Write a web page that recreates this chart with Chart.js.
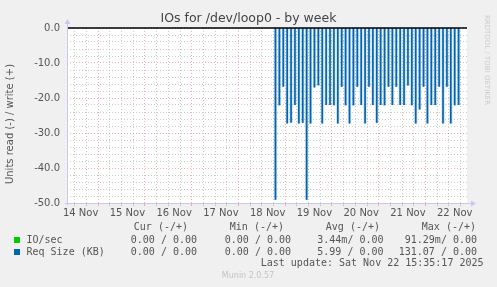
<!DOCTYPE html>
<html>
<head>
<meta charset="utf-8">
<script src="https://cdn.jsdelivr.net/npm/chart.js@4/dist/chart.umd.min.js"></script>
<style>
  html, body { margin: 0; padding: 0; background: #f0f0f0; }
  #wrap { width: 497px; height: 287px; position: relative; }
</style>
</head>
<body>
<div id="wrap"><canvas id="ioChart" width="497" height="287"></canvas></div>
<script>
// hours since 14 Nov 00:00
const times = [112, 114, 116, 118, 120, 122, 124, 126, 128, 130, 132, 134, 136, 138, 140, 142,
  144, 146, 148, 150, 152, 154, 156, 158, 160, 162, 164, 166, 168, 170, 172, 174,
  176, 178, 180, 182, 184, 186, 188, 190, 192, 194, 196, 198, 200, 202, 204, 206];
// Req Size (KB), read side (drawn negative)
const reqSizeRead = [-49, -22, -16.7, -27.2, -27, -21.9, -27.2, -27, -49, -27.2, -16.9, -16.3, -27.2, -21.9, -21.9, -22,
  -27.2, -16.7, -22, -27.2, -22, -16.7, -21.9, -27.2, -16.7, -21.9, -27, -21.9, -22, -16.7, -21.9, -16.7,
  -21.9, -21.9, -16.3, -22, -27.2, -23.2, -16.7, -27.2, -21.9, -21.9, -16.7, -27.2, -16.7, -27.2, -22, -21.9];
const dayLabels = ['14 Nov', '15 Nov', '16 Nov', '17 Nov', '18 Nov', '19 Nov', '20 Nov', '21 Nov', '22 Nov'];
const legendHeads = ['Cur (-/+)', 'Min (-/+)', 'Avg (-/+)', 'Max (-/+)'];
const ioSecRow = ['0.00 / 0.00', '0.00 / 0.00', '3.44m/ 0.00', '91.29m/ 0.00'];
const reqSizeRow = ['0.00 / 0.00', '0.00 / 0.00', '5.99 / 0.00', '131.07 / 0.00'];

const RED = 'rgba(225,110,110,0.55)';
const GREY = 'rgba(190,190,190,0.8)';

const pts = times.map((t, i) => ({ x: t, y: reqSizeRead[i] }));

// frame, titles and the munin legend
const muninDecor = {
  id: 'muninDecor',
  beforeDraw(chart) {
    const { ctx, chartArea: a } = chart;
    ctx.save();
    ctx.fillStyle = '#f0f0f0';
    ctx.fillRect(0, 0, chart.width, chart.height);
    ctx.fillStyle = '#ffffff';
    ctx.fillRect(a.left, a.top, a.right - a.left, a.bottom - a.top);
    ctx.restore();
  },
  afterDatasetsDraw(chart) {
    const { ctx, chartArea: a, scales } = chart;
    ctx.save();
    // zero line
    const y0 = scales.y.getPixelForValue(0);
    ctx.strokeStyle = '#000';
    ctx.lineWidth = 1.5;
    ctx.beginPath(); ctx.moveTo(a.left, y0); ctx.lineTo(a.right, y0); ctx.stroke();
    // axes with arrows
    ctx.strokeStyle = '#c8c8f0';
    ctx.fillStyle = '#c8c8f0';
    ctx.lineWidth = 1;
    ctx.beginPath(); ctx.moveTo(a.left + 0.5, a.bottom + 2); ctx.lineTo(a.left + 0.5, a.top - 5); ctx.stroke();
    ctx.beginPath(); ctx.moveTo(a.left - 2, a.bottom + 0.5); ctx.lineTo(a.right + 5, a.bottom + 0.5); ctx.stroke();
    ctx.beginPath(); ctx.moveTo(a.left - 2.5, a.top - 4); ctx.lineTo(a.left + 3.5, a.top - 4); ctx.lineTo(a.left + 0.5, a.top - 9); ctx.fill();
    ctx.beginPath(); ctx.moveTo(a.right + 4, a.bottom - 2.5); ctx.lineTo(a.right + 4, a.bottom + 3.5); ctx.lineTo(a.right + 9, a.bottom + 0.5); ctx.fill();

    // title
    ctx.fillStyle = '#444';
    ctx.font = '12.5px "DejaVu Sans"';
    ctx.textAlign = 'center';
    ctx.textBaseline = 'middle';
    ctx.fillText('IOs for /dev/loop0 - by week', 248.5, 19);

    // y axis title
    ctx.save();
    ctx.translate(10, 124);
    ctx.rotate(-Math.PI / 2);
    ctx.fillStyle = '#555';
    ctx.font = '10px "DejaVu Sans"';
    ctx.fillText('Units read (-) / write (+)', 0, 0);
    ctx.restore();

    // rrdtool credit
    ctx.save();
    ctx.translate(487, 60);
    ctx.rotate(Math.PI / 2);
    ctx.fillStyle = '#cccccc';
    ctx.font = '7px "DejaVu Sans"';
    ctx.fillText('RRDTOOL / TOBI OETIKER', 0, 0);
    ctx.restore();

    // legend
    ctx.font = '10px "DejaVu Sans Mono"';
    ctx.fillStyle = '#555';
    ctx.textAlign = 'right';
    const headEnd = [188, 284, 380, 476];
    const valEnd = [197, 291, 383.5, 477];
    legendHeads.forEach((h, i) => ctx.fillText(h, headEnd[i], 227.5));
    ioSecRow.forEach((v, i) => ctx.fillText(v, valEnd[i], 240));
    reqSizeRow.forEach((v, i) => ctx.fillText(v, valEnd[i], 252));
    ctx.textAlign = 'left';
    ctx.fillText('IO/sec', 26.5, 240);
    ctx.fillText('Req Size (KB)', 26.5, 252);
    ctx.fillStyle = '#00cc00';
    ctx.fillRect(14, 237, 6, 6);
    ctx.fillStyle = '#0066b3';
    ctx.fillRect(14, 249, 6, 6);
    ctx.fillStyle = '#555';
    ctx.textAlign = 'right';
    ctx.fillText('Last update: Sat Nov 22 15:35:17 2025', 483.5, 263.5);
    ctx.textAlign = 'center';
    ctx.fillStyle = '#c4c4c4';
    ctx.font = '8px "DejaVu Sans"';
    ctx.fillText('Munin 2.0.57', 248, 276);
    ctx.restore();
  }
};

new Chart(document.querySelector('#ioChart'), {
  type: 'bar',
  data: {
    datasets: [
      {
        label: 'Req Size (KB) halo',
        data: pts,
        backgroundColor: 'rgba(0,102,179,0.22)',
        barThickness: 2.6,
        grouped: false,
        order: 2,
      },
      {
        label: 'Req Size (KB)',
        data: pts,
        backgroundColor: '#0066b3',
        barThickness: 1,
        grouped: false,
        order: 1,
      },
    ],
  },
  options: {
    responsive: false,
    animation: false,
    events: [],
    layout: { padding: { left: 0, right: 30, top: 28, bottom: 0 } },
    plugins: { legend: { display: false }, tooltip: { enabled: false } },
    scales: {
      x: {
        type: 'linear',
        min: 8.1,
        max: 207.2,
        afterFit: s => { s.height = 84; },
        afterBuildTicks: s => {
          const t = [];
          for (let h = 12; h <= 204; h += 6) t.push({ value: h });
          s.ticks = t;
        },
        ticks: {
          autoSkip: false,
          maxRotation: 0,
          padding: 1,
          color: '#555',
          font: { family: 'DejaVu Sans', size: 10 },
          callback: v => (v % 24 === 12 ? dayLabels[(v - 12) / 24] : ''),
        },
        grid: {
          color: c => (c.tick && c.tick.value % 24 === 0 ? RED : GREY),
          tickLength: 3,
          lineWidth: 1,
        },
        border: { display: false, dash: [1, 2] },
      },
      y: {
        min: -50,
        max: 0,
        afterFit: s => { s.width = 67; },
        ticks: {
          stepSize: 2,
          autoSkip: false,
          padding: 7,
          color: '#555',
          font: { family: 'DejaVu Sans', size: 10 },
          callback: v => (v % 10 === 0 ? v.toFixed(1) : ''),
        },
        grid: {
          color: c => (c.tick && c.tick.value % 10 === 0 ? RED : GREY),
          drawTicks: false,
          lineWidth: 1,
        },
        border: { display: false, dash: [1, 2] },
      },
    },
  },
  plugins: [muninDecor],
});
</script>
</body>
</html>
